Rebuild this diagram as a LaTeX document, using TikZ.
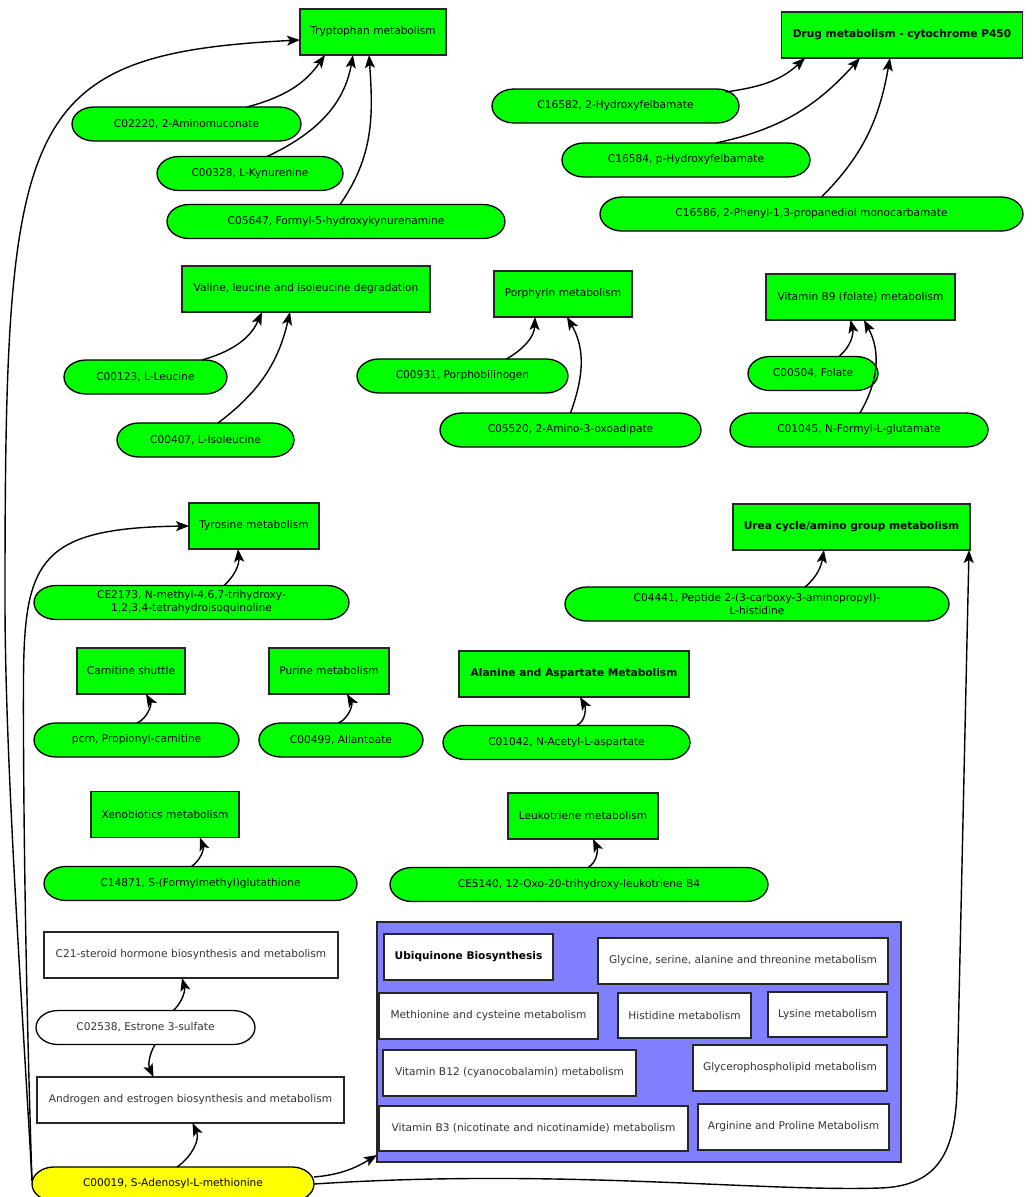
\documentclass[tikz,border=0pt]{standalone}
\usepackage{fontspec}
\setmainfont{DejaVu Sans}
\usetikzlibrary{arrows.meta}
\pgfdeclarelayer{background}
\pgfsetlayers{background,main}

\definecolor{pwgreen}{RGB}{0,255,0}
\definecolor{pwblue}{RGB}{128,128,255}
\definecolor{seedyellow}{RGB}{255,255,0}

% compound outline: flat top and bottom with elliptic ends, drawn behind a text node
\newcommand\drawpill[2]{%
  \filldraw[fill=#2, draw=black, line width=1.3pt]
    ([xshift=22pt]#1.north west) -- ([xshift=-22pt]#1.north east)
    arc[start angle=90, end angle=-90, x radius=22pt, y radius=17pt]
    -- ([xshift=22pt]#1.south west)
    arc[start angle=270, end angle=90, x radius=22pt, y radius=17pt] -- cycle;}

\begin{document}
\begin{tikzpicture}[x=1pt, y=-1pt,
  every node/.style={font=\fontsize{10.6pt}{13pt}\selectfont, inner sep=3pt, outer sep=0pt},
  bold/.style={font=\fontsize{10.6pt}{13pt}\selectfont\bfseries},
  pathbox/.style={rectangle, draw=black!85, line width=1.6pt, fill=pwgreen, minimum height=46pt},
  plainbox/.style={rectangle, draw=black!85, line width=1.6pt, fill=white, minimum height=46pt, text=black!80},
  cpd/.style={rectangle, minimum height=34pt, align=center},
  arr/.style={draw=black, line width=1.4pt, -{Stealth[length=13pt, width=10pt, inset=3pt]}}
]
\useasboundingbox (0,0) rectangle (1032,1197);

% ---------- pathways ----------
\node[pathbox, minimum width=146pt] (trp) at (373,32) {Tryptophan metabolism};
\node[pathbox, bold, minimum width=241pt] (drug) at (902,35) {Drug metabolism - cytochrome P450};
\node[pathbox, minimum width=248pt] (vlid) at (306,289) {Valine, leucine and isoleucine degradation};
\node[pathbox, minimum width=138pt] (por) at (563,294) {Porphyrin metabolism};
\node[pathbox, minimum width=189pt] (fol) at (860.5,297) {Vitamin B9 (folate) metabolism};
\node[pathbox, minimum width=130pt] (tyr) at (254,526) {Tyrosine metabolism};
\node[pathbox, bold, minimum width=237pt] (urea) at (851.5,527) {Urea cycle/amino group metabolism};
\node[pathbox, minimum width=108pt] (carn) at (131,671) {Carnitine shuttle};
\node[pathbox, minimum width=120pt] (pur) at (329,671) {Purine metabolism};
\node[pathbox, bold, minimum width=230pt] (ala) at (574,674) {Alanine and Aspartate Metabolism};
\node[pathbox, minimum width=148pt] (xeno) at (165,814.5) {Xenobiotics metabolism};
\node[pathbox, minimum width=150pt] (leuk) at (583,816) {Leukotriene metabolism};

\node[plainbox, minimum width=294pt] (c21) at (191,955) {C21-steroid hormone biosynthesis and metabolism};
\node[plainbox, minimum width=307pt] (andr) at (190.5,1100) {Androgen and estrogen biosynthesis and metabolism};

% ---------- group of pathways ----------
\node[rectangle, draw=black!85, line width=1.6pt, fill=pwblue, minimum width=524pt, minimum height=240pt] (grp) at (639,1042) {};
\node[plainbox, bold, text=black, minimum width=169pt] (ubi) at (468.5,957) {Ubiquinone Biosynthesis};
\node[plainbox, minimum width=290pt] (gly) at (743,961) {Glycine, serine, alanine and threonine metabolism};
\node[plainbox, minimum width=219pt] (met) at (488.5,1016) {Methionine and cysteine metabolism};
\node[plainbox, minimum width=133pt, minimum height=45pt] (his) at (684.5,1015.5) {Histidine metabolism};
\node[plainbox, minimum width=119pt, minimum height=45pt] (lys) at (827.5,1014.5) {Lysine metabolism};
\node[plainbox, minimum width=253pt] (b12) at (509.5,1073) {Vitamin B12 (cyanocobalamin) metabolism};
\node[plainbox, minimum width=194pt] (glp) at (790,1068) {Glycerophospholipid metabolism};
\node[plainbox, minimum width=309pt, minimum height=45pt] (b3) at (533.5,1128.5) {Vitamin B3 (nicotinate and nicotinamide) metabolism};
\node[plainbox, minimum width=191pt] (arg) at (793.5,1127) {Arginine and Proline Metabolism};

% ---------- compounds ----------
\node[cpd, minimum width=229pt] (c02220) at (186.5,124) {C02220, 2-Aminomuconate};
\node[cpd, minimum width=186pt] (c00328) at (250,173.5) {C00328, L-Kynurenine};
\node[cpd, minimum width=338pt] (c05647) at (336,221.5) {C05647, Formyl-5-hydroxykynurenamine};
\node[cpd, minimum width=247pt] (c16582) at (615.5,106) {C16582, 2-Hydroxyfelbamate};
\node[cpd, minimum width=248pt] (c16584) at (686,160) {C16584, p-Hydroxyfelbamate};
\node[cpd, minimum width=423pt] (c16586) at (811.5,214) {C16586, 2-Phenyl-1,3-propanediol monocarbamate};
\node[cpd, minimum width=163pt] (c00123) at (145.5,377) {C00123, L-Leucine};
\node[cpd, minimum width=177pt] (c00407) at (205.5,440) {C00407, L-Isoleucine};
\node[cpd, minimum width=211pt] (c00931) at (462.5,376) {C00931, Porphobilinogen};
\node[cpd, minimum width=261pt] (c05520) at (570.5,430) {C05520, 2-Amino-3-oxoadipate};
\node[cpd, minimum width=130pt] (c00504) at (813,373.5) {C00504, Folate};
\node[cpd, minimum width=258pt] (c01045) at (859,430) {C01045, N-Formyl-L-glutamate};
\node[cpd, minimum width=315pt] (ce2173) at (191.5,602.5) {CE2173, N-methyl-4,6,7-trihydroxy-\\1,2,3,4-tetrahydroisoquinoline};
\node[cpd, minimum width=384pt] (c04441) at (757,604) {C04441, Peptide 2-(3-carboxy-3-aminopropyl)-\\L-histidine};
\node[cpd, minimum width=205pt] (pcrn) at (136.5,740) {pcrn, Propionyl-carnitine};
\node[cpd, minimum width=164pt] (c00499) at (341,740) {C00499, Allantoate};
\node[cpd, minimum width=247pt] (c01042) at (566.5,742.5) {C01042, N-Acetyl-L-aspartate};
\node[cpd, minimum width=313pt] (c14871) at (200.5,883.5) {C14871, S-(Formylmethyl)glutathione};
\node[cpd, minimum width=378pt] (ce5140) at (579,884.5) {CE5140, 12-Oxo-20-trihydroxy-leukotriene B4};
\node[cpd, minimum width=219pt, text=black!80] (c02538) at (145.5,1027.5) {C02538, Estrone 3-sulfate};
\node[cpd, minimum width=282pt] (c00019) at (173,1184) {C00019, S-Adenosyl-L-methionine};

\begin{pgfonlayer}{background}
  \foreach \n in {c02220,c00328,c05647,c16582,c16584,c16586,c00123,c00407,c00931,c05520,
                  c00504,c01045,ce2173,c04441,pcrn,c00499,c01042,c14871,ce5140}
    {\drawpill{\n}{pwgreen}}
  \drawpill{c02538}{white}
  \drawpill{c00019}{seedyellow}
\end{pgfonlayer}

% ---------- compound -> pathway links ----------
\draw[arr] ([xshift=60.5pt]c02220.north) to[out=15,in=-125] ([xshift=-48pt]trp.south);
\draw[arr] ([xshift=17pt]c00328.north) to[out=25,in=-100] ([xshift=-20pt]trp.south);
\draw[arr] ([xshift=4pt]c05647.north) to[out=55,in=-86] ([xshift=-4pt]trp.south);

\draw[arr] ([xshift=110pt,yshift=-3pt]c16582.north) to[out=8,in=-137] ([xshift=-97pt]drug.south);
\draw[arr] ([xshift=30pt]c16584.north) to[out=12,in=-132] ([xshift=-42pt]drug.south);
\draw[arr] ([xshift=10pt]c16586.north) to[out=45,in=-100] ([xshift=-12pt]drug.south);

\draw[arr] ([xshift=56.5pt]c00123.north) to[out=16,in=-114] ([xshift=-44pt]vlid.south);
\draw[arr] ([xshift=12.5pt]c00407.north) to[out=37,in=-103] ([xshift=-16pt]vlid.south);

\draw[arr] ([xshift=44pt]c00931.north) to[out=30,in=-92] ([xshift=-28pt]por.south);
\draw[arr] (c05520.north) to[out=70,in=-60] ([xshift=4pt]por.south);

\draw[arr] ([xshift=26pt]c00504.north) to[out=40,in=-77] ([xshift=-10pt]fol.south);
\draw[arr] ([xshift=1pt]c01045.north) to[out=60,in=-62] ([xshift=3.5pt]fol.south);

\draw[arr] ([xshift=32.5pt]ce2173.north) to[out=42,in=-85] ([xshift=-16pt]tyr.south);
\draw[arr] ([xshift=48pt]c04441.north) to[out=40,in=-100] ([xshift=-27.5pt]urea.south);

\draw[arr] ([xshift=0.5pt]pcrn.north) to[out=25,in=-60] ([xshift=15pt]carn.south);
\draw[arr] ([xshift=-2.5pt]c00499.north) to[out=25,in=-60] ([xshift=18pt]pur.south);
\draw[arr] ([xshift=10pt]c01042.north) to[out=25,in=-60] ([xshift=6pt]ala.south);
\draw[arr] ([xshift=-9pt]c14871.north) to[out=35,in=-70] ([xshift=35pt]xeno.south);
\draw[arr] ([xshift=9pt]ce5140.north) to[out=30,in=-65] ([xshift=10pt]leuk.south);

\draw[arr] ([xshift=28pt]c02538.north) to[out=45,in=-75] ([xshift=-9pt]c21.south);
\draw[arr] ([xshift=9.5pt]c02538.south) to[out=-120,in=115] ([xshift=-37pt]andr.north);
\draw[arr] ([xshift=4pt]c00019.north) to[out=35,in=-65] ([xshift=2pt]andr.south);

% ---------- long links from S-Adenosyl-L-methionine ----------
\coordinate (samL) at ([yshift=3pt]c00019.west);
\coordinate (trpIn) at ([yshift=-8pt]trp.west);
\draw[arr] (samL) .. controls (22,1000) and (5,760) .. (5,600)
  .. controls (5,120) and (17,54) .. (trpIn);
\draw[arr] (samL) .. controls (26,1000) and (23,800) .. (23.5,680)
  .. controls (24,560) and (40,528) .. (tyr.west);
\draw[arr] ([yshift=7pt]c00019.east) to[out=5,in=-149] ([yshift=7pt]grp.south west);
\draw[arr] (c00019.east) .. controls (560,1168) and (760,1192) .. (880,1188)
  .. controls (940,1186) and (955,1150) .. (957,1090) -- ([xshift=-1pt]urea.south east);
\end{tikzpicture}
\end{document}
